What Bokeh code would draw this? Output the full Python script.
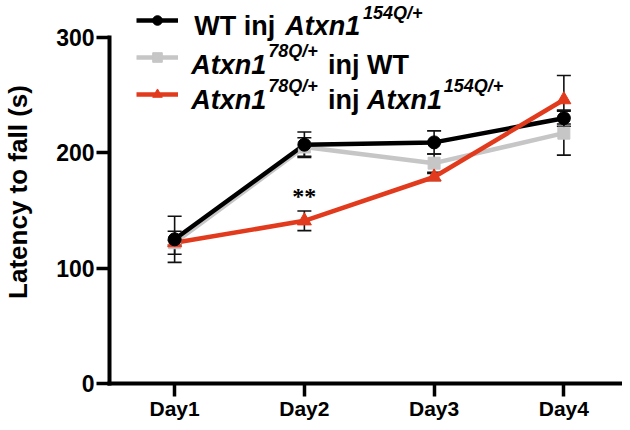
from bokeh.plotting import figure
from bokeh.models import (Range1d, FixedTicker, Whisker, ColumnDataSource,
                          Label, Legend, LegendItem, TeeHead)
from bokeh.embed import file_html
from bokeh.resources import INLINE

# ---- data ----
days = ["Day1", "Day2", "Day3", "Day4"]
wt_mean = [125, 207, 209, 230]          # WT inj Atxn1 154Q/+
wt_err = [20, 11, 10, 7]
ctrl_mean = [122, 205, 191, 217]        # Atxn1 78Q/+ inj WT
ctrl_err = [10, 8, 8, 19]
het_mean = [122, 141, 179, 246]         # Atxn1 78Q/+ inj Atxn1 154Q/+
het_err = [2, 8.5, 3, 21]
y_ticks = [0, 100, 200, 300]
sig_day = "Day2"
sig_text = "**"

day_x = list(range(1, len(days) + 1))

BLACK = "#000000"
GRAY = "#c6c6c6"
RED = "#e23a1d"
FONT = "Liberation Sans"

X0, X1 = 0.498, 4.452
Y0, Y1 = 0, 332

p = figure(width=622, height=422,
           x_range=Range1d(X0, X1), y_range=Range1d(Y0, Y1),
           output_backend="svg", toolbar_location=None,
           min_border_left=108, min_border_right=0,
           min_border_top=0, min_border_bottom=39)
p.outline_line_color = None
p.xgrid.visible = False
p.ygrid.visible = False
p.background_fill_color = "white"
p.border_fill_color = "white"

for ax in (p.xaxis[0], p.yaxis[0]):
    ax.axis_line_width = 4
    ax.axis_line_color = BLACK
    ax.axis_line_cap = "square"
    ax.major_tick_line_width = 3.5
    ax.major_tick_line_color = BLACK
    ax.major_tick_in = 0
    ax.major_tick_out = 13
    ax.minor_tick_line_color = None
    ax.major_label_text_font = FONT
    ax.major_label_text_font_style = "bold"
    ax.major_label_text_font_size = "23px"
    ax.major_label_text_color = BLACK

p.xaxis.ticker = FixedTicker(ticks=day_x)
p.xaxis.major_label_overrides = {x: d for x, d in zip(day_x, days)}
p.xaxis.major_label_standoff = 0
p.xaxis.major_label_text_font_size = "21px"

p.yaxis.ticker = FixedTicker(ticks=y_ticks)
p.yaxis.bounds = (0, 300)
p.yaxis.major_label_standoff = 2
p.yaxis.axis_label = "Latency to fall (s)"
p.yaxis.axis_label_text_font = FONT
p.yaxis.axis_label_text_font_style = "bold"
p.yaxis.axis_label_text_font_size = "26px"
p.yaxis.axis_label_text_color = BLACK
p.yaxis.axis_label_standoff = 20


def make_src(mean, err):
    return ColumnDataSource(dict(x=day_x, mean=mean,
                                 upper=[m + e for m, e in zip(mean, err)],
                                 lower=[m - e for m, e in zip(mean, err)]))


src_wt = make_src(wt_mean, wt_err)
src_ctrl = make_src(ctrl_mean, ctrl_err)
src_het = make_src(het_mean, het_err)

# error bars
for src in (src_ctrl, src_het, src_wt):
    w = Whisker(source=src, base="x", upper="upper", lower="lower",
                line_color="#111111", line_width=1.6,
                upper_head=TeeHead(size=14, line_width=1.6, line_color="#111111"),
                lower_head=TeeHead(size=14, line_width=1.6, line_color="#111111"))
    p.add_layout(w)

# lines
l_ctrl = p.line("x", "mean", source=src_ctrl, line_width=4.5, color=GRAY)
l_wt = p.line("x", "mean", source=src_wt, line_width=4.5, color=BLACK)
l_het = p.line("x", "mean", source=src_het, line_width=4.5, color=RED)
# markers
m_ctrl = p.scatter("x", "mean", source=src_ctrl, marker="square", size=12, color=GRAY)
m_het = p.scatter("x", "mean", source=src_het, marker="triangle", size=14, color=RED)
m_wt = p.scatter("x", "mean", source=src_wt, marker="circle", size=13, color=BLACK)

# significance mark above the red Day2 error bar
si = days.index(sig_day)
p.text(x=[day_x[si]], y=[het_mean[si] + het_err[si] + 13], text=[sig_text],
       text_font=FONT, text_font_style="bold", text_font_size="24px",
       text_align="center", text_baseline="alphabetic", text_color=BLACK)

# legend samples (labels drawn separately for the superscripts)
legend = Legend(items=[LegendItem(label=" ", renderers=[l_wt, m_wt]),
                       LegendItem(label=" ", renderers=[l_ctrl, m_ctrl]),
                       LegendItem(label=" ", renderers=[l_het, m_het])],
                location=(27, 277), orientation="vertical",
                glyph_width=42, glyph_height=24, label_width=0, label_height=24,
                label_standoff=0, spacing=13, padding=0, margin=0,
                border_line_color=None, background_fill_alpha=0,
                label_text_font_size="1px")
p.add_layout(legend)

PXU = 130.0      # pixels per day
PYU = 1.1533     # pixels per second


def lx(px):
    return X0 + (px - 108) / PXU


def ly(py):
    return (383 - py) / PYU


def piece(text, px, py, size="27px", style="bold italic"):
    p.add_layout(Label(x=lx(px), y=ly(py), text=text, text_font=FONT,
                       text_font_style=style, text_font_size=size,
                       text_align="left", text_baseline="alphabetic",
                       text_color=BLACK))


SUP = "18px"
# row 1
piece("WT inj", 193, 26, style="bold")
piece("Atxn1", 284, 26)
piece("154Q/+", 362, 13, size=SUP)
# row 2
piece("Atxn1", 190, 65)
piece("78Q/+", 267, 51, size=SUP)
piece("inj WT", 327, 65, style="bold")
# row 3
piece("Atxn1", 190, 100)
piece("78Q/+", 267, 86, size=SUP)
piece("inj", 327, 100, style="bold")
piece("Atxn1", 366, 100)
piece("154Q/+", 443, 86, size=SUP)

open("out.html", "w").write(file_html(p, INLINE))
